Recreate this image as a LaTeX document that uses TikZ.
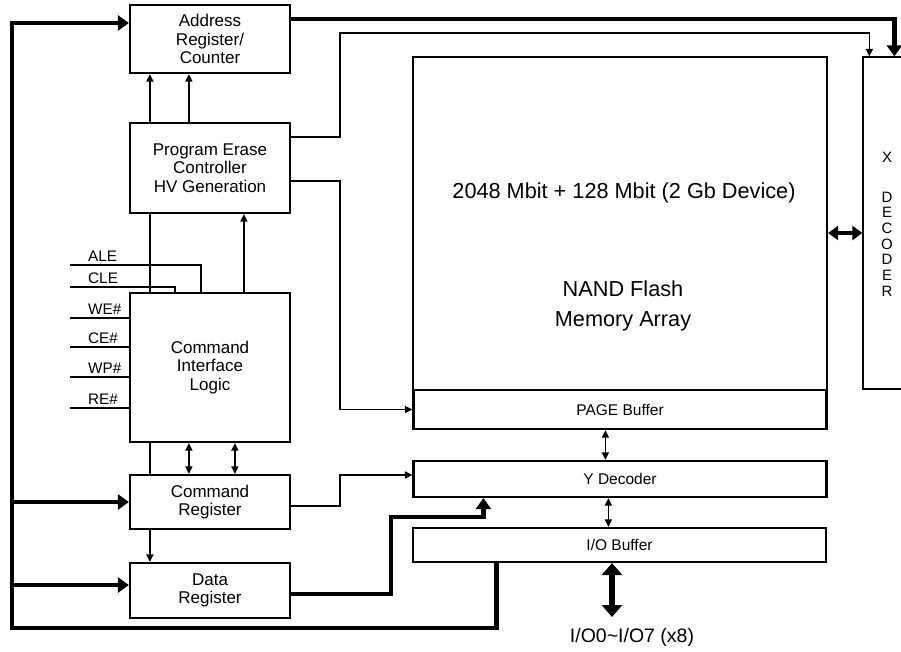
\documentclass[tikz,border=0pt]{standalone}
\usepackage{fontspec}
\setmainfont{Liberation Sans}
\usetikzlibrary{arrows.meta,calc}

\tikzset{
  blk/.style={draw, line width=2.2pt, minimum width=160pt, inner sep=0pt, align=center,
    font=\fontsize{17}{18.5}\selectfont},
  wide/.style={draw, line width=2.2pt, minimum width=413pt, inner sep=0pt,
    font=\fontsize{15.5}{17}\selectfont},
  sig/.style={anchor=base west, inner sep=0pt, font=\fontsize{15.3}{17}\selectfont},
  wire/.style={line width=1.6pt},
  tip/.style={wire, -{Triangle[length=7.5pt,width=7pt]}},
  tips/.style={wire, {Triangle[length=7.5pt,width=7pt]}-{Triangle[length=7.5pt,width=7pt]}},
  bus/.style={line width=4.5pt, -{Triangle[length=11pt,width=15pt]}},
  buses/.style={line width=4.5pt, {Triangle[length=10pt,width=14pt]}-{Triangle[length=10pt,width=14pt]}},
}

\begin{document}
\begin{tikzpicture}[x=1pt,y=-1pt]
  \useasboundingbox (0,0) rectangle (901,651);

  % control side
  \node[blk, minimum height=68pt] (addr) at (210,39) {Address\\Register/\\Counter};
  \node[blk, minimum height=90pt] (pec) at (210,168) {Program Erase\\Controller\\HV Generation};
  \node[blk, minimum height=149pt] (cil) at (210,367.5) {Command\\Interface\\Logic};
  \node[blk, minimum height=54pt] (cmdreg) at (210,502) {Command\\Register};
  \node[blk, minimum height=55pt] (datareg) at (210,590.5) {Data\\Register};

  % memory side
  \node[draw, line width=2.2pt, minimum width=414pt, minimum height=333pt] (array) at (620,223.5) {};
  \node[font=\fontsize{21.7}{30}\selectfont] (size) at (624,193) {2048 Mbit + 128 Mbit (2 Gb Device)};
  \node[font=\fontsize{21.7}{30}\selectfont, align=center] (nand) at (623,306) {NAND Flash\\Memory Array};
  \node[wide, minimum height=39pt] (page) at (620,409.5) {PAGE Buffer};
  \node[wide, minimum height=36pt] (ydec) at (620,479) {Y Decoder};
  \node[wide, minimum height=34pt] (iobuf) at (619.5,545) {I/O Buffer};
  \node[draw, line width=1.3pt, minimum width=84pt, minimum height=332pt] (xdec) at (905,223) {};
  \node[font=\fontsize{15}{15.7}\selectfont] (xlbl) at (887,157) {X};
  \node[font=\fontsize{15}{15.7}\selectfont, align=center] (declbl) at (887,244) {D\\E\\C\\O\\D\\E\\R};
  \node[font=\fontsize{19.5}{22}\selectfont] (pinlbl) at (632,637) {I/O0\textasciitilde I/O7 (x8)};

  \coordinate (ctl) at (340,33);
  \coordinate (busbl) at (12,628);
  \coordinate (dstep) at (391,517);
  \coordinate (pins) at (612,617);
  \coordinate (ale in) at (70,265);
  \coordinate (cle in) at (70,287);

  % control signals
  \draw[wire] (ale in) -| ([xshift=72pt]cil.north west);
  \draw[wire] (cle in) -| ([xshift=46pt]cil.north west);
  \node[sig] (ale) at ([xshift=18pt,yshift=4pt]ale in) {ALE};
  \node[sig] (cle) at ([xshift=18pt,yshift=4pt]cle in) {CLE};
  \foreach \lbl/\yy in {WE/318,CE/347,WP/377,RE/408} {
    \coordinate (\lbl in) at (70,\yy);
    \draw[wire] (\lbl in) -- (\lbl in -| cil.west);
    \node[sig] (\lbl) at ([xshift=18pt,yshift=4pt]\lbl in) {\lbl\#};
  }

  % internal links
  \draw[tip] ([xshift=21pt]pec.north west) -- ([xshift=21pt]addr.south west);
  \draw[tip] ([xshift=60pt]pec.north west) -- ([xshift=60pt]addr.south west);
  \draw[wire] ([xshift=21pt]pec.south west) -- ([xshift=21pt]cil.north west);
  \draw[tip] ([xshift=115pt]cil.north west) -- ([xshift=115pt]pec.south west);
  \draw[wire] ([xshift=21pt]cil.south west) -- ([xshift=21pt]cmdreg.north west);
  \draw[tips] ([xshift=60pt]cil.south west) -- ([xshift=60pt]cmdreg.north west);
  \draw[tips] ([xshift=106pt]cil.south west) -- ([xshift=106pt]cmdreg.north west);
  \draw[tip] ([xshift=21pt]cmdreg.south west) -- ([xshift=21pt]datareg.north west);

  \draw[tip] ([yshift=31pt]pec.east) -| (ctl) -| ([xshift=7pt]xdec.north west);
  \draw[tip] ([yshift=-13pt]pec.east) -- ([yshift=-13pt]pec.east -| ctl) |- (page.west);
  \draw[tip] ([yshift=-4pt]cmdreg.east) -- ([yshift=-4pt]cmdreg.east -| ctl) |- ([yshift=4pt]ydec.west);
  \draw[bus] ([yshift=20pt]addr.east) -| ([xshift=32pt]xdec.north west);
  \draw[bus] ([yshift=-3.5pt]datareg.east) -| (dstep) -| ([xshift=71pt]ydec.south west);

  \draw[tips] ([xshift=193pt]page.south west) -- ([xshift=193pt]page.south west |- ydec.north);
  \draw[tips] ([xshift=196pt]ydec.south west) -- ([xshift=196pt]ydec.south west |- iobuf.north);
  \draw[buses] ([yshift=-9.5pt]array.east) -- ([yshift=-9.5pt]array.east -| xdec.west);
  \draw[line width=6pt, {Triangle[length=12pt,width=20pt]}-{Triangle[length=12pt,width=20pt]}]
    (iobuf.south -| pins) -- (pins);

  % data bus
  \draw[bus] ([xshift=84.5pt]iobuf.south west) |- (busbl) |- ([yshift=16pt]addr.west);
  \draw[bus] (busbl |- cmdreg.west) -- (cmdreg.west);
  \draw[bus] ([yshift=5.5pt]busbl |- datareg.west) -- ([yshift=5.5pt]datareg.west);
\end{tikzpicture}
\end{document}
